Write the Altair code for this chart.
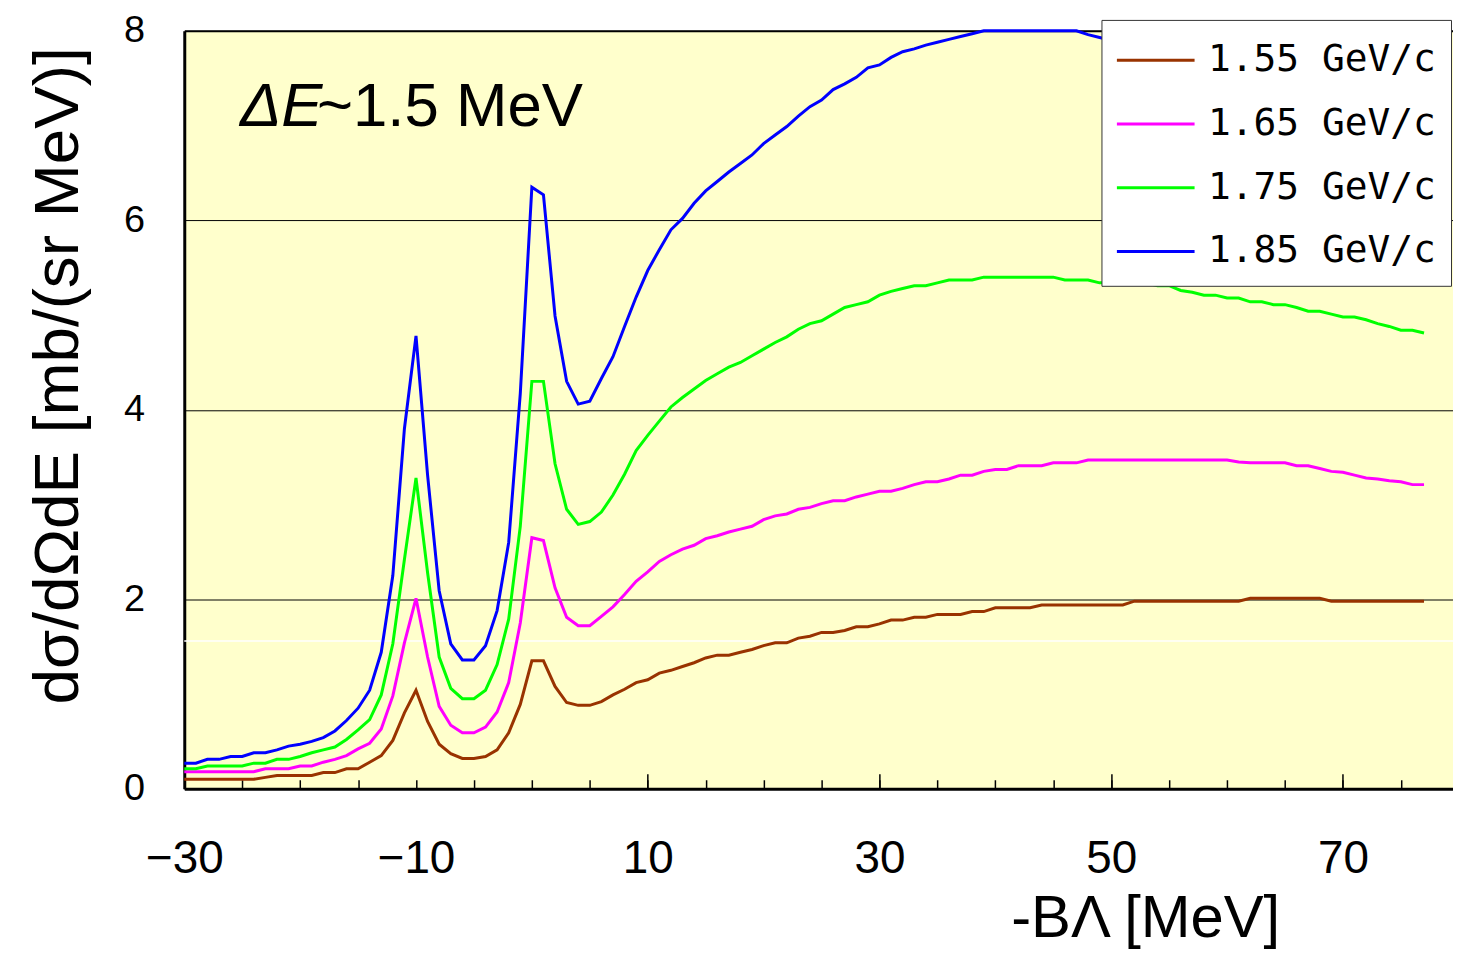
import altair as alt
import pandas as pd

# ---------------- data ----------------
X_START, X_END = -30, 77
x_vals = list(range(X_START, X_END + 1))

SERIES = ["1.55 GeV/c", "1.65 GeV/c", "1.75 GeV/c", "1.85 GeV/c"]
COLORS = ["#993300", "#FF00FF", "#00FF00", "#0000FF"]

brown = [
    0.10, 0.10, 0.10, 0.10, 0.10, 0.10, 0.10, 0.12, 0.14, 0.14,   # -30..-21
    0.14, 0.14, 0.17, 0.17, 0.21, 0.21, 0.28, 0.35, 0.51, 0.80,   # -20..-11
    1.04, 0.71, 0.47, 0.37, 0.32, 0.32, 0.34, 0.41, 0.59, 0.89,   # -10..-1
    1.35, 1.35, 1.08, 0.91, 0.88, 0.88, 0.92, 0.99, 1.05, 1.12,   # 0..9
    1.15, 1.22, 1.25, 1.29, 1.33, 1.38, 1.41, 1.41, 1.44, 1.47,   # 10..19
    1.51, 1.54, 1.54, 1.59, 1.61, 1.65, 1.65, 1.67, 1.71, 1.71,   # 20..29
    1.74, 1.78, 1.78, 1.81, 1.81, 1.84, 1.84, 1.84, 1.87, 1.87,   # 30..39
    1.91, 1.91, 1.91, 1.91, 1.94, 1.94, 1.94, 1.94, 1.94, 1.94,   # 40..49
    1.94, 1.94, 1.98, 1.98, 1.98, 1.98, 1.98, 1.98, 1.98, 1.98,   # 50..59
    1.98, 1.98, 2.01, 2.01, 2.01, 2.01, 2.01, 2.01, 2.01, 1.98,   # 60..69
    1.98, 1.98, 1.98, 1.98, 1.98, 1.98, 1.98, 1.98,               # 70..77
]
magenta = [
    0.18, 0.18, 0.18, 0.18, 0.18, 0.18, 0.18, 0.21, 0.21, 0.21,   # -30..-21
    0.24, 0.24, 0.28, 0.31, 0.35, 0.42, 0.48, 0.63, 0.98, 1.54,   # -20..-11
    2.01, 1.39, 0.87, 0.67, 0.59, 0.59, 0.65, 0.81, 1.12, 1.75,   # -10..-1
    2.65, 2.62, 2.12, 1.81, 1.72, 1.72, 1.82, 1.92, 2.05, 2.19,   # 0..9
    2.29, 2.40, 2.47, 2.53, 2.57, 2.64, 2.67, 2.71, 2.74, 2.77,   # 10..19
    2.84, 2.88, 2.90, 2.95, 2.97, 3.01, 3.04, 3.04, 3.08, 3.11,   # 20..29
    3.14, 3.14, 3.17, 3.21, 3.24, 3.24, 3.27, 3.31, 3.31, 3.35,   # 30..39
    3.37, 3.37, 3.41, 3.41, 3.41, 3.44, 3.44, 3.44, 3.47, 3.47,   # 40..49
    3.47, 3.47, 3.47, 3.47, 3.47, 3.47, 3.47, 3.47, 3.47, 3.47,   # 50..59
    3.47, 3.45, 3.44, 3.44, 3.44, 3.44, 3.41, 3.41, 3.38, 3.35,   # 60..69
    3.34, 3.31, 3.28, 3.27, 3.25, 3.24, 3.21, 3.21,               # 70..77
]
green = [
    0.21, 0.21, 0.24, 0.24, 0.24, 0.24, 0.27, 0.27, 0.31, 0.31,   # -30..-21
    0.34, 0.38, 0.41, 0.44, 0.52, 0.62, 0.73, 0.99, 1.53, 2.42,   # -20..-11
    3.28, 2.28, 1.39, 1.06, 0.95, 0.95, 1.04, 1.31, 1.79, 2.77,   # -10..-1
    4.30, 4.30, 3.43, 2.95, 2.79, 2.82, 2.92, 3.10, 3.32, 3.57,   # 0..9
    3.73, 3.88, 4.03, 4.13, 4.22, 4.31, 4.38, 4.45, 4.50, 4.57,   # 10..19
    4.64, 4.71, 4.77, 4.85, 4.91, 4.94, 5.01, 5.08, 5.11, 5.14,   # 20..29
    5.21, 5.25, 5.28, 5.31, 5.31, 5.34, 5.37, 5.37, 5.37, 5.40,   # 30..39
    5.40, 5.40, 5.40, 5.40, 5.40, 5.40, 5.37, 5.37, 5.37, 5.34,   # 40..49
    5.34, 5.34, 5.34, 5.34, 5.31, 5.31, 5.26, 5.24, 5.21, 5.21,   # 50..59
    5.18, 5.18, 5.14, 5.14, 5.11, 5.11, 5.08, 5.04, 5.04, 5.01,   # 60..69
    4.98, 4.98, 4.95, 4.91, 4.88, 4.84, 4.84, 4.81,               # 70..77
]
blue = [
    0.27, 0.27, 0.31, 0.31, 0.34, 0.34, 0.38, 0.38, 0.41, 0.45,   # -30..-21
    0.47, 0.50, 0.54, 0.61, 0.72, 0.85, 1.04, 1.44, 2.25, 3.80,   # -20..-11
    4.78, 3.31, 2.09, 1.53, 1.36, 1.36, 1.51, 1.88, 2.60, 4.17,   # -10..-1
    6.35, 6.27, 4.99, 4.30, 4.06, 4.09, 4.33, 4.56, 4.88, 5.19,   # 0..9
    5.47, 5.69, 5.90, 6.02, 6.18, 6.31, 6.41, 6.51, 6.60, 6.69,   # 10..19
    6.81, 6.90, 6.99, 7.10, 7.20, 7.27, 7.38, 7.44, 7.51, 7.61,   # 20..29
    7.64, 7.72, 7.78, 7.81, 7.85, 7.88, 7.91, 7.94, 7.97, 8.00,   # 30..39
    8.03, 8.05, 8.07, 8.08, 8.07, 8.05, 8.03, 8.00, 7.96, 7.93,   # 40..49
    7.90, 7.88, 7.85, 7.82, 7.79, 7.76, 7.72, 7.69, 7.65, 7.62,   # 50..59
    7.58, 7.55, 7.51, 7.47, 7.44, 7.40, 7.36, 7.32, 7.28, 7.24,   # 60..69
    7.20, 7.16, 7.12, 7.08, 7.04, 7.00, 6.96, 6.92,               # 70..77
]

X_DOMAIN = [-30, 79.5]
Y_DOMAIN = [0, 8]
X_LABEL_VALUES = [-30, -10, 10, 30, 50, 70]
X_MINOR_TICKS = list(range(-30, 80, 5))
X_MAJOR_TICKS = [10, 30, 50, 70]
Y_VALUES = [0, 2, 4, 6, 8]

WHITE_LINE_X = [-30]
WHITE_LINE_X2 = [79.5]
WHITE_LINE_Y = [1.56]

ANN1_X, ANN1_Y, ANN1_TEXT = [-25.2], [7.0], ["ΔE"]
ANN2_X, ANN2_Y, ANN2_TEXT = [-18.55], [7.0], ["~1.5 MeV"]

X_TITLE = "-BΛ [MeV]"
Y_TITLE = "dσ/dΩdE [mb/(sr MeV)]"

# ---------------- build tables ----------------
rows = []
for name, vals in zip(SERIES, [brown, magenta, green, blue]):
    for xv, yv in zip(x_vals, vals):
        rows.append({"x": xv, "y": yv, "series": name})
df = pd.DataFrame(rows)

white_df = pd.DataFrame({"x0": WHITE_LINE_X, "x1": WHITE_LINE_X2, "y": WHITE_LINE_Y})
ann1_df = pd.DataFrame({"x": ANN1_X, "y": ANN1_Y, "t": ANN1_TEXT})
ann2_df = pd.DataFrame({"x": ANN2_X, "y": ANN2_Y, "t": ANN2_TEXT})

FONT = "Liberation Sans"
x_scale = alt.Scale(domain=X_DOMAIN, nice=False, zero=False)
y_scale = alt.Scale(domain=Y_DOMAIN, nice=False, zero=False, clamp=True)

# main lines with the main x axis (labels + title) and y axis
lines = alt.Chart(df).mark_line(strokeWidth=3, strokeJoin="miter").encode(
    x=alt.X(
        "x:Q",
        scale=x_scale,
        axis=alt.Axis(
            orient="bottom",
            values=X_LABEL_VALUES,
            ticks=False,
            grid=False,
            domain=True,
            domainColor="black",
            domainWidth=3,
            labelFont=FONT,
            labelFontSize=46,
            labelColor="black",
            labelPadding=48,
            labelFlush=False,
            labelOverlap=False,
            title=X_TITLE,
            titleFont=FONT,
            titleFontSize=60,
            titleFontWeight="normal",
            titleColor="black",
            titleAlign="right",
            titleBaseline="alphabetic",
            titleX=1100,
            titleY=148,
        ),
    ),
    y=alt.Y(
        "y:Q",
        scale=y_scale,
        axis=alt.Axis(
            orient="left",
            values=Y_VALUES,
            ticks=False,
            grid=True,
            gridColor="black",
            gridWidth=1,
            gridOpacity=1,
            domain=True,
            domainColor="black",
            domainWidth=3,
            labelFont=FONT,
            labelFontSize=38,
            labelColor="black",
            labelPadding=40,
            title=Y_TITLE,
            titleFont=FONT,
            titleFontSize=64,
            titleFontWeight="normal",
            titleColor="black",
            titleAngle=270,
            titleAlign="center",
            titleBaseline="alphabetic",
            titleX=-107,
            titleY=346,
        ),
    ),
    color=alt.Color(
        "series:N",
        scale=alt.Scale(domain=SERIES, range=COLORS),
        legend=alt.Legend(
            title=None,
            orient="none",
            legendX=921,
            legendY=-11,
            fillColor="white",
            strokeColor="#333333",
            padding=15,
            symbolType="M-1.625,0H1.625",
            symbolStrokeWidth=3,
            symbolSize=2304,
            symbolOffset=14,
            labelFont="DejaVu Sans Mono",
            labelFontSize=38,
            labelColor="black",
            labelOffset=27,
            labelLimit=500,
            rowPadding=19,
        ),
    ),
    order="x:Q",
)

# white artefact line + minor inward ticks
white = alt.Chart(white_df).mark_rule(color="white", strokeWidth=1.5).encode(
    x=alt.X(
        "x0:Q",
        scale=x_scale,
        axis=alt.Axis(
            orient="bottom",
            values=X_MINOR_TICKS,
            labels=False,
            domain=False,
            grid=False,
            ticks=True,
            tickSize=9,
            tickWidth=1.5,
            tickColor="black",
            offset=-9,
            title=None,
        ),
    ),
    x2="x1:Q",
    y=alt.Y("y:Q", scale=y_scale, axis=None),
)

# annotation part 1 (italic) + major inward ticks
ann1 = alt.Chart(ann1_df).mark_text(
    font=FONT, fontSize=62, fontStyle="italic", align="left", baseline="alphabetic", color="black"
).encode(
    x=alt.X(
        "x:Q",
        scale=x_scale,
        axis=alt.Axis(
            orient="bottom",
            values=X_MAJOR_TICKS,
            labels=False,
            domain=False,
            grid=False,
            ticks=True,
            tickSize=15,
            tickWidth=1.5,
            tickColor="black",
            offset=-15,
            title=None,
        ),
    ),
    y=alt.Y("y:Q", scale=y_scale, axis=None),
    text="t:N",
)

# annotation part 2 + top border axis
ann2 = alt.Chart(ann2_df).mark_text(
    font=FONT, fontSize=62, align="left", baseline="alphabetic", color="black"
).encode(
    x=alt.X(
        "x:Q",
        scale=x_scale,
        axis=alt.Axis(
            orient="top",
            labels=False,
            ticks=False,
            grid=False,
            domain=True,
            domainColor="black",
            domainWidth=2,
            title=None,
        ),
    ),
    y=alt.Y("y:Q", scale=y_scale, axis=None),
    text="t:N",
)

chart = (
    alt.layer(white, lines, ann1, ann2)
    .resolve_axis(x="independent", y="independent")
    .properties(
        width=1274,
        height=761,
        autosize=alt.AutoSizeParams(type="none"),
        padding={"left": 177, "top": 21, "right": 0, "bottom": 162},
        background="white",
    )
    .configure_view(fill="#FFFFCC", stroke="transparent")
)

chart.save("out.html", embed_options={"renderer": "svg", "actions": False})
